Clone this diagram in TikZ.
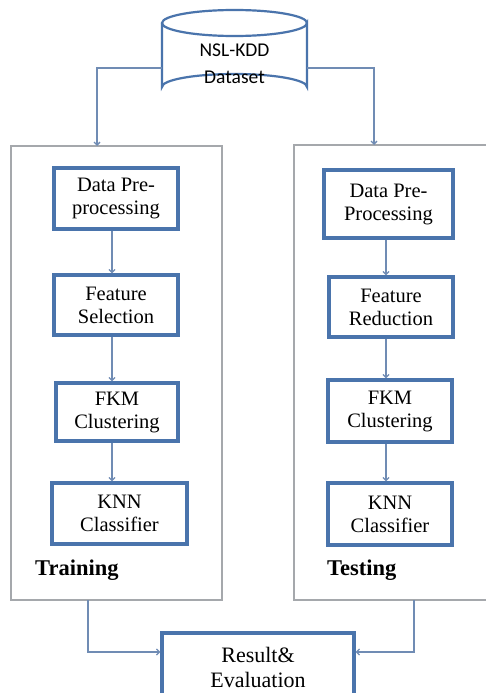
\documentclass[tikz,border=0pt]{standalone}
\usepackage{fontspec}
\setmainfont{Liberation Serif}
\newfontfamily\dbfont{Carlito}
\usetikzlibrary{arrows.meta}
\definecolor{boxblue}{RGB}{74,116,172}
\definecolor{linkblue}{RGB}{112,140,180}
\definecolor{panelgray}{RGB}{165,168,172}
\tikzset{
  stepbox/.style={draw=boxblue, line width=3.2pt, fill=white, align=center,
    inner sep=0pt, font=\fontsize{20.5}{23}\selectfont},
  panel/.style={draw=panelgray, line width=1.5pt},
  link/.style={draw=linkblue, line width=1.3pt, -{Straight Barb[length=3pt,width=6pt]}},
  tag/.style={anchor=base west, inner sep=0pt, font=\fontsize{22.5}{24}\selectfont\bfseries}
}
\begin{document}
\begin{tikzpicture}[x=1pt,y=-1pt]
\useasboundingbox (0,0) rectangle (485,693);
\fill[white] (0,0) rectangle (485,693);

% database cylinder
\draw[draw=boxblue, line width=2.2pt, fill=white]
  (162,23) -- (162,87) arc[start angle=180, end angle=360, x radius=72.5, y radius=13]
  -- (307,23) arc[start angle=0, end angle=360, x radius=72.5, y radius=13];
\node[font=\dbfont\fontsize{19.5}{27}\selectfont, align=center, inner sep=0pt]
  (db) at (234.5,64) {NSL-KDD\\Dataset};
\coordinate (dbL) at (162,68);
\coordinate (dbR) at (307,68);

% training and testing panels
\node[panel, minimum width=211, minimum height=454, inner sep=0pt] (train) at (116.5,373) {};
\node[panel, minimum width=240, minimum height=455, inner sep=0pt] (test) at (414,372.5) {};
\node[tag] at (35,575) {Training};
\node[tag] at (327,575) {Testing};

% training pipeline
\node[stepbox, minimum width=124, minimum height=61] (a1) at (116,198.5) {Data Pre-\\processing};
\node[stepbox, minimum width=124, minimum height=60] (a2) at (116,305) {Feature\\Selection};
\node[stepbox, minimum width=122, minimum height=58] (a3) at (117,412) {FKM\\Clustering};
\node[stepbox, minimum width=135, minimum height=61] (a4) at (119.5,513.5) {KNN\\Classifier};

% testing pipeline
\node[stepbox, minimum width=129, minimum height=68] (b1) at (388.5,204) {Data Pre-\\Processing};
\node[stepbox, minimum width=124, minimum height=60] (b2) at (391,307) {Feature\\Reduction};
\node[stepbox, minimum width=124, minimum height=62] (b3) at (390,411) {FKM\\Clustering};
\node[stepbox, minimum width=124, minimum height=62] (b4) at (390,514) {KNN\\Classifier};

% result box
\node[stepbox, minimum width=192, minimum height=68, font=\fontsize{22}{25}\selectfont]
  (res) at (258,667) {Result\&\\Evaluation};

% connectors
\draw[link] (dbL) -- (97,68) -- (97,146);
\draw[link] (dbR) -- (374,68) -- (374,145);

\draw[link] (a1.south -| 112,0) -- (a2.north -| 112,0);
\draw[link] (a2.south -| 112,0) -- (a3.north -| 112,0);
\draw[link] (a3.south -| 112,0) -- (a4.north -| 112,0);

\draw[link] (b1.south -| 386,0) -- (b2.north -| 386,0);
\draw[link] (b2.south -| 386,0) -- (b3.north -| 386,0);
\draw[link] (b3.south -| 386,0) -- (b4.north -| 386,0);

\draw[link] (88,600) -- (88,652) -- (res.west |- 0,652);
\draw[link] (414,600) -- (414,652) -- (res.east |- 0,652);
\end{tikzpicture}
\end{document}
